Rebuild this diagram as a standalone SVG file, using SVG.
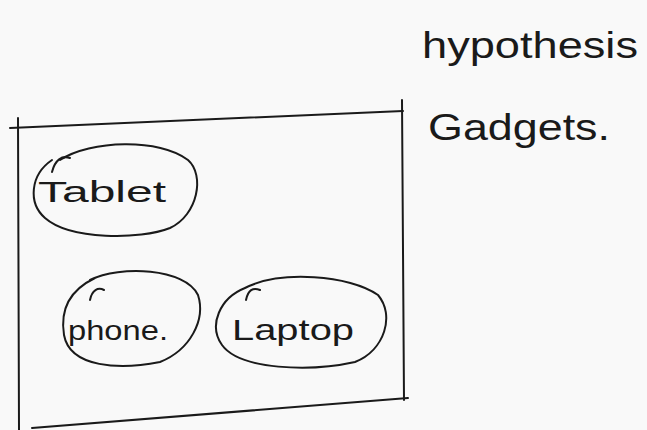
<svg xmlns="http://www.w3.org/2000/svg" width="647" height="430" viewBox="0 0 647 430">
<style>
.ink{fill:none;stroke:#1a1a1a;stroke-width:2;stroke-linecap:round;stroke-linejoin:round}
.hand{font-family:"Liberation Sans","DejaVu Sans",sans-serif;fill:#1a1a1a}
</style>
<rect width="647" height="430" fill="#f9f9f9"/>
<g id="frame">
<path class="ink" d="M10,128 L403,111"/>
<path class="ink" d="M18,118 L19,430"/>
<path class="ink" d="M402,100 L404,400"/>
<path class="ink" d="M32,428 L408,398"/>
</g>
<g id="tablet">
<path class="ink" d="M60,160 C90,140 160,138 188,160 C205,175 198,215 170,228 C140,240 70,240 45,218 C28,203 30,175 52,160"/>
<path class="ink" d="M52,172 C55,160 62,155 70,158"/>
<text class="hand" x="38" y="202" font-size="30" textLength="128" lengthAdjust="spacingAndGlyphs">Tablet</text>
</g>
<g id="phone">
<path class="ink" d="M90,280 C120,265 185,268 198,295 C206,320 190,350 160,362 C120,370 70,368 64,335 C60,310 70,290 95,278"/>
<path class="ink" d="M90,300 C92,290 98,287 104,290"/>
<text class="hand" x="68" y="340" font-size="28" textLength="100" lengthAdjust="spacingAndGlyphs">phone.</text>
</g>
<g id="laptop">
<path class="ink" d="M245,288 C280,270 350,275 378,295 C395,315 385,350 355,362 C310,372 240,370 222,345 C208,325 220,298 245,288"/>
<path class="ink" d="M246,300 C248,290 253,287 260,290"/>
<text class="hand" x="232" y="340" font-size="30" textLength="122" lengthAdjust="spacingAndGlyphs">Laptop</text>
</g>
<g id="connectors"></g>
<g id="labels">
<text class="hand" x="422" y="58" font-size="36" textLength="216" lengthAdjust="spacingAndGlyphs">hypothesis</text>
<text class="hand" x="428" y="140" font-size="36" textLength="182" lengthAdjust="spacingAndGlyphs">Gadgets.</text>
</g>
</svg>
